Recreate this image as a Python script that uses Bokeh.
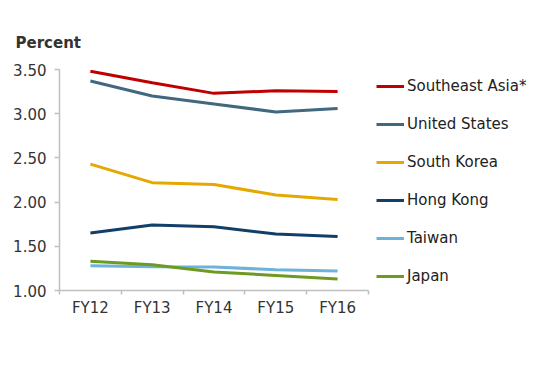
from bokeh.plotting import figure
from bokeh.models import Range1d, FixedTicker, Legend, LegendItem
from bokeh.embed import file_html
from bokeh.resources import INLINE

years = ["FY12", "FY13", "FY14", "FY15", "FY16"]
series_names = ["Southeast Asia*", "United States", "South Korea", "Hong Kong", "Taiwan", "Japan"]
southeast_asia = [3.48, 3.35, 3.23, 3.26, 3.25]
united_states = [3.37, 3.20, 3.11, 3.02, 3.06]
south_korea = [2.43, 2.22, 2.20, 2.08, 2.03]
hong_kong = [1.65, 1.74, 1.72, 1.64, 1.61]
taiwan = [1.28, 1.27, 1.265, 1.235, 1.22]
japan = [1.33, 1.29, 1.21, 1.17, 1.13]
y_ticks = [1.0, 1.5, 2.0, 2.5, 3.0, 3.5]

colors = ["#C00000", "#41687F", "#E5A800", "#123F6A", "#6DB3D9", "#6F9A22"]
values = [southeast_asia, united_states, south_korea, hong_kong, taiwan, japan]

xs = list(range(len(years)))
bounds = [i - 0.5 for i in range(len(years) + 1)]

font = "DejaVu Sans"
axis_color = "#BFBFBF"
text_color = "#333333"

p = figure(frame_width=309, frame_height=221, output_backend="svg", toolbar_location=None,
           x_range=Range1d(bounds[0], bounds[-1]), y_range=Range1d(y_ticks[0], y_ticks[-1]),
           min_border_left=59, min_border_right=178, min_border_top=69, min_border_bottom=70,
           title="Percent")
p.outline_line_color = None
p.grid.visible = False

p.title.align = "left"
p.title.offset = -44
p.title.standoff = 35
p.title.text_font = font
p.title.text_font_size = "15px"
p.title.text_font_style = "bold"
p.title.text_color = text_color

for ax in (p.xaxis[0], p.yaxis[0]):
    ax.axis_line_color = axis_color
    ax.axis_line_width = 1.5
    ax.major_tick_line_color = axis_color
    ax.major_tick_line_width = 1.5
    ax.minor_tick_line_color = axis_color
    ax.minor_tick_line_width = 1.5
    ax.major_label_text_font = font
    ax.major_label_text_font_size = "15px"
    ax.major_label_text_color = text_color

p.xaxis.ticker = FixedTicker(ticks=xs, minor_ticks=bounds)
p.xaxis.major_label_overrides = {i: y for i, y in zip(xs, years)}
p.xaxis.major_tick_out = 0
p.xaxis.major_tick_in = 0
p.xaxis.minor_tick_out = 4
p.xaxis.minor_tick_in = 0
p.xaxis.major_label_standoff = 4

p.yaxis.ticker = FixedTicker(ticks=y_ticks)
p.yaxis.major_label_overrides = {t: f"{t:.2f}" for t in y_ticks}
p.yaxis.major_tick_out = 5
p.yaxis.major_tick_in = 0
p.yaxis.minor_tick_line_color = None
p.yaxis.major_label_standoff = 8

items = []
for name, vals, c in zip(series_names, values, colors):
    r = p.line(xs, vals, line_color=c, line_width=3)
    items.append(LegendItem(label=name, renderers=[r]))

legend = Legend(items=items, location="top_left", glyph_width=28, glyph_height=16,
                label_height=16, spacing=20, padding=0, margin=8, label_standoff=3,
                label_text_font=font, label_text_font_size="15px", label_text_color="#222222",
                border_line_alpha=0, background_fill_alpha=0)
p.add_layout(legend, "right")

open("out.html", "w").write(file_html(p, INLINE))
